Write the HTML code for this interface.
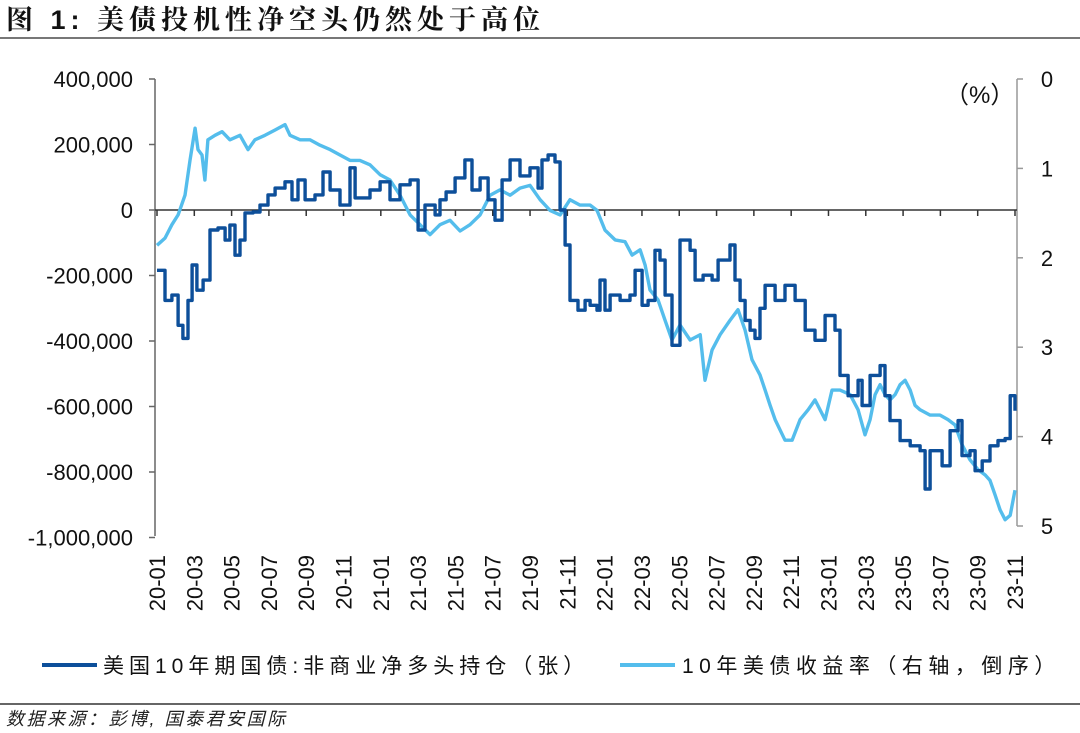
<!DOCTYPE html>
<html><head><meta charset="utf-8"><style>
body{margin:0;background:#fff;}
svg{display:block;font-family:"Liberation Sans","Noto Sans CJK SC",sans-serif;}
</style></head><body>
<svg id="c" width="1080" height="733" viewBox="0 0 1080 733">
<text x="6" y="29" font-size="27" font-weight="bold" letter-spacing="5" fill="#111" font-family="'Liberation Sans','Noto Serif CJK SC',serif">图 1:  美债投机性净空头仍然处于高位</text>
<line x1="0" y1="38" x2="1080" y2="38" stroke="#777" stroke-width="2"/>
<g id="plot"></g>
<text x="945" y="103" font-size="24" fill="#111">（%）</text>
<line x1="42" y1="665" x2="97" y2="665" stroke="#0d4f9a" stroke-width="4"/>
<text x="103" y="673" font-size="21" letter-spacing="5" fill="#111">美国10年期国债:非商业净多头持仓（张）</text>
<line x1="620" y1="665" x2="675" y2="665" stroke="#54bdec" stroke-width="4"/>
<text x="682" y="673" font-size="21" letter-spacing="5.5" fill="#111">10年美债收益率（右轴，倒序）</text>
<line x1="0" y1="704" x2="1080" y2="704" stroke="#333" stroke-width="1.5"/>
<text x="6" y="725" font-size="18" letter-spacing="2.5" font-style="italic" fill="#222">数据来源：彭博, 国泰君安国际</text>
</svg>
<script>
const posT=[0,0.43,0.8,1.13,1.39,1.66,1.88,2.14,2.47,2.84,3.27,3.65,3.91,4.18,4.45,4.72,5.15,5.52,5.95,6.33,6.86,7.24,7.56,7.94,8.47,8.9,9.28,9.81,10.35,10.62,11.42,11.96,12.49,13.03,13.57,14.0,14.37,14.91,15.17,15.5,15.98,16.51,16.89,17.32,17.75,18.12,18.5,18.93,19.46,20.0,20.43,20.64,20.97,21.34,21.61,21.88,22.14,22.57,22.95,23.22,23.59,23.75,24.02,24.29,24.83,25.36,25.63,26.01,26.33,26.7,26.97,27.24,27.61,28.04,28.58,28.85,29.28,29.76,30.08,30.72,30.99,31.26,31.53,31.8,32.06,32.33,32.6,33.14,33.67,34.21,34.75,35.28,35.82,36.35,36.62,37.05,37.59,37.8,38.23,38.77,39.03,39.3,39.84,40.38,40.91,41.18,41.45,41.72,42.09,42.52,42.95,43.16,43.59,43.86,44.24,44.66,45.09,45.47,45.74,46];
const posV=[-184,-276,-260,-352,-392,-276,-168,-245,-214,-61,-55,-92,-46,-138,-92,-9,-6,15,46,67,86,31,92,31,46,116,61,15,129,37,61,86,31,77,92,-61,15,-15,31,55,98,153,61,98,31,-31,92,153,104,129,67,153,168,147,0,-107,-276,-306,-276,-291,-306,-214,-306,-260,-276,-260,-184,-291,-276,-123,-153,-260,-413,-92,-123,-214,-199,-214,-153,-107,-214,-276,-337,-367,-392,-300,-230,-276,-230,-276,-367,-398,-322,-367,-505,-567,-520,-597,-505,-475,-567,-643,-704,-720,-735,-852,-735,-735,-781,-674,-643,-750,-735,-796,-766,-720,-704,-698,-567,-613];
const ylT=[0,0.43,0.8,1.13,1.5,1.77,2.04,2.2,2.41,2.57,2.73,3.11,3.49,3.91,4.45,4.88,5.25,5.79,6.33,6.86,7.13,7.67,8.2,8.74,9.28,9.81,10.35,10.88,11.42,11.96,12.49,13.03,13.57,14.1,14.64,15.17,15.71,16.25,16.78,17.32,17.86,18.39,18.93,19.46,20,20.54,21.07,21.61,22.14,22.68,23.22,23.59,24.02,24.56,25.09,25.47,25.9,26.17,26.43,26.86,27.24,27.61,28.04,28.58,29.12,29.38,29.76,30.19,30.72,31.15,31.53,31.9,32.33,32.6,32.87,33.14,33.67,34.05,34.48,34.91,35.28,35.82,36.19,36.62,37.16,37.59,37.96,38.23,38.5,38.77,39.03,39.3,39.57,39.84,40.11,40.38,40.64,40.91,41.45,41.98,42.41,42.79,43.16,43.59,44.02,44.4,44.66,44.93,45.2,45.47,45.74,46];
const ylV=[1.86,1.78,1.63,1.52,1.30,0.91,0.55,0.79,0.85,1.13,0.68,0.63,0.59,0.68,0.63,0.79,0.68,0.63,0.57,0.51,0.63,0.68,0.68,0.74,0.79,0.85,0.91,0.91,0.96,1.07,1.13,1.30,1.52,1.63,1.74,1.63,1.58,1.70,1.63,1.52,1.30,1.24,1.30,1.22,1.19,1.35,1.47,1.52,1.35,1.41,1.41,1.47,1.69,1.80,1.82,1.97,1.91,2.08,2.36,2.47,2.70,2.92,2.75,2.92,2.86,3.37,3.03,2.86,2.70,2.58,2.81,3.14,3.31,3.48,3.65,3.81,4.04,4.04,3.81,3.70,3.59,3.81,3.48,3.48,3.53,3.70,3.98,3.81,3.53,3.42,3.53,3.59,3.53,3.42,3.37,3.48,3.65,3.70,3.76,3.76,3.81,3.87,4.09,4.26,4.37,4.43,4.49,4.65,4.82,4.93,4.88,4.60];
const leftTicks=[400000,200000,0,-200000,-400000,-600000,-800000,-1000000];
const leftLabels=["400,000","200,000","0","-200,000","-400,000","-600,000","-800,000","-1,000,000"];
const rightTicks=[0,1,2,3,4,5];
const xLabels=["20-01","20-03","20-05","20-07","20-09","20-11","21-01","21-03","21-05","21-07","21-09","21-11","22-01","22-03","22-05","22-07","22-09","22-11","23-01","23-03","23-05","23-07","23-09","23-11"];

const NS="http://www.w3.org/2000/svg";
const g=document.getElementById('plot');
const X0=155,X1=1017;
const xS=m=>157+m*(858/46);
const yL=v=>210-v*(131/400000);
const yR=p=>79+p*89.4;
function mk(t,a,parent){const e=document.createElementNS(NS,t);for(const k in a)e.setAttribute(k,a[k]);(parent||g).appendChild(e);return e;}

let e=mk('line',{x1:X0,y1:79,x2:X0,y2:536,stroke:'#666','stroke-width':1.5});


e=mk('line',{x1:X1,y1:79,x2:X1,y2:526,stroke:'#999','stroke-width':1.5});


leftTicks.forEach((v,i)=>{
  const y=yL(v);
  let t=mk('line',{x1:X0-6,y1:y,x2:X0,y2:y,stroke:'#666','stroke-width':1.5});
  
  
  let tx=mk('text',{x:133,y:y+8,'text-anchor':'end','font-size':22,fill:'#111'});
  tx.textContent=leftLabels[i];
  
  
});
rightTicks.forEach(p=>{
  const y=yR(p);
  let t=mk('line',{x1:X1,y1:y,x2:X1+6,y2:y,stroke:'#999','stroke-width':1.5});
  
  
  let tx=mk('text',{x:1047,y:y+8,'text-anchor':'middle','font-size':22,fill:'#111'});
  tx.textContent=String(p);
  
  
});
e=mk('line',{x1:X0,y1:210,x2:X1,y2:210,stroke:'#333','stroke-width':1.5});


xLabels.forEach((l,i)=>{
  const x=xS(i*2);
  let t=mk('line',{x1:x,y1:210,x2:x,y2:216,stroke:'#333','stroke-width':1.5});
  
  
  let tx=mk('text',{x:x+8,y:555,'text-anchor':'end','font-size':22,fill:'#111',transform:`rotate(-90 ${x+8} 555)`});
  tx.textContent=l;
  
  
});
let d='';
ylT.forEach((t,i)=>{d+=(i?'L':'M')+xS(t).toFixed(1)+' '+yR(ylV[i]).toFixed(1);});
e=mk('path',{d:d,fill:'none',stroke:'#54bdec','stroke-width':3.4,'stroke-linejoin':'round'});


d='';
posT.forEach((t,i)=>{
  const x=xS(t).toFixed(1),y=yL(posV[i]*1000).toFixed(1);
  if(!i)d+='M'+x+' '+y;else d+='H'+x+'V'+y;
});
e=mk('path',{d:d,fill:'none',stroke:'#0d4f9a','stroke-width':3.4,'stroke-linejoin':'round'});


</script>
</body></html>
